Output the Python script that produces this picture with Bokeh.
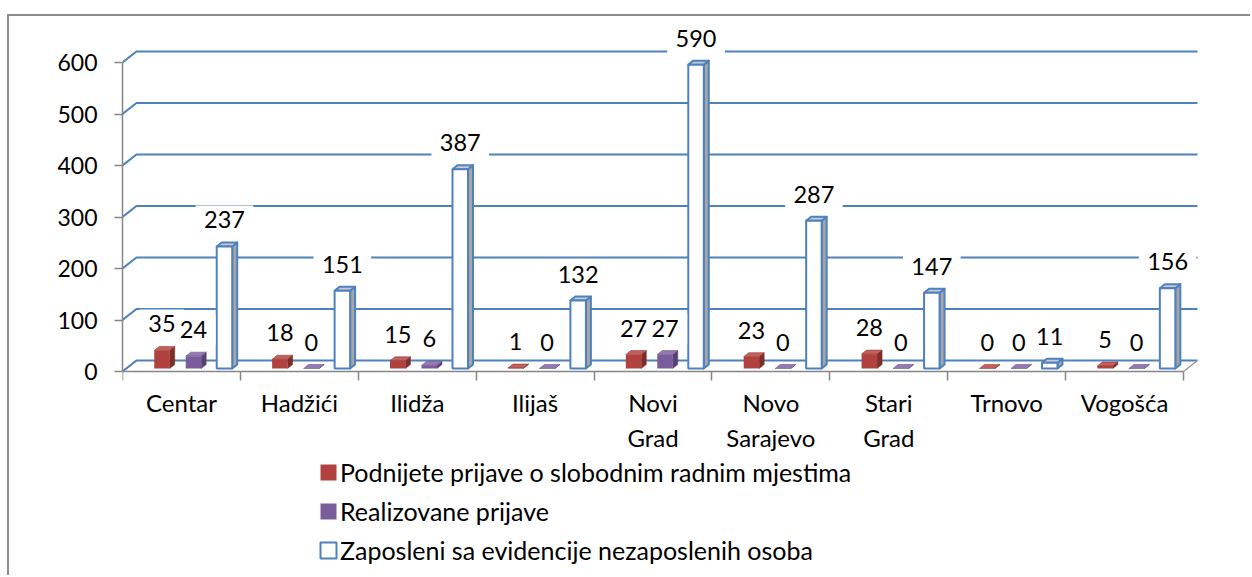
import numpy as np
from bokeh.plotting import figure
from bokeh.models import Range1d, FixedTicker, Legend, LegendItem
from bokeh.core.properties import value
from bokeh.embed import file_html
from bokeh.resources import INLINE

# ---------------- data ----------------
categories = ["Centar", "Hadžići", "Ilidža", "Ilijaš", "Novi Grad",
              "Novo Sarajevo", "Stari Grad", "Trnovo", "Vogošća"]
category_labels = ["Centar", "Hadžići", "Ilidža", "Ilijaš", "Novi\nGrad",
                   "Novo\nSarajevo", "Stari\nGrad", "Trnovo", "Vogošća"]
series_names = ["Podnijete prijave o slobodnim radnim mjestima",
                "Realizovane prijave",
                "Zaposleni sa evidencije nezaposlenih osoba"]
podnijete = [35, 18, 15, 1, 27, 23, 28, 0, 5]
realizovane = [24, 0, 6, 0, 27, 0, 0, 0, 0]
zaposleni = [237, 151, 387, 132, 590, 287, 147, 11, 156]
y_ticks = [0, 100, 200, 300, 400, 500, 600]

# ---------------- layout constants (image pixels) ----------------
OX, OY = 9, 16                      # css margin + border offset
W, H = 1252 - OX, 577 - OY
FRAME_L, FRAME_T, FRAME_R = 122, 22, 1200
ZERO_Y = 371                        # image y of value 0 on the front plane
ML, MT = FRAME_L - OX, FRAME_T - OY
MR = W - (FRAME_R - OX)
FW = FRAME_R - FRAME_L
CAT_PX = 117.89           # pixels per category
Y_PX = 0.515              # pixels per unit
PX = 1.0 / CAT_PX
PY = 1.0 / Y_PX
FONT = "Lato"

p = figure(width=W, height=H, output_backend="svg", toolbar_location=None,
           x_range=Range1d(0, FW / CAT_PX),
           y_range=Range1d(-(577 - ZERO_Y) / Y_PX, (ZERO_Y - FRAME_T) / Y_PX),
           min_border_left=ML, min_border_right=MR, min_border_top=MT,
           min_border_bottom=0)
p.styles = {"margin-left": "7px", "margin-top": "14px",
            "border-left": "2px solid #8C8C8C",
            "border-top": "2px solid #8C8C8C"}
p.outline_line_color = None
p.xgrid.visible = False
p.ygrid.visible = False
p.background_fill_color = "white"
p.border_fill_color = "white"

n = len(categories)

# ---------------- walls / gridlines ----------------
WDX, WDY = 14 * PX, 11 * PY
gx = [[0, WDX, n + WDX] for v in y_ticks]
gy = [[v, v + WDY, v + WDY] for v in y_ticks]
p.multi_line(gx, gy, line_color="#4F81BD", line_width=2)
p.line([n, n + WDX], [0, WDY], line_color="#9A9A9A", line_width=1.5)

# ---------------- 3D bars ----------------
styles = [
    dict(front="#B0413E", top="#C4605C", side="#7E2D2A", line=None),
    dict(front="#7A5C9B", top="#9479B3", side="#574273", line=None),
    dict(front="#FFFFFF", top="#C3CAD6", side="#A6A6A6", line="#4F81BD"),
]
offsets = [0.335, 0.602, 0.865]
series_vals = [podnijete, realizovane, zaposleni]
HALF = 7.75 * PX
BY0 = 3 * PY
DX, DY = 5 * PX, 4 * PY

front_renderers = []
label_x, label_y, label_t, box_y, box_w = [], [], [], [], []
for k, vals in enumerate(series_vals):
    st = styles[k]
    xc = np.arange(n) + offsets[k]
    v = np.array(vals, dtype=float)
    x0 = xc - HALF
    x1 = xc + HALF
    y0 = np.full(n, BY0)
    y1 = v + BY0
    side_xs = [[a, a + DX, a + DX, a] for a in x1]
    side_ys = [[b0, b0 + DY, b1 + DY, b1] for b0, b1 in zip(y0, y1)]
    top_xs = [[a, b, b + DX, a + DX] for a, b in zip(x0, x1)]
    top_ys = [[c, c, c + DY, c + DY] for c in y1]
    if st["line"]:
        lc, lw = st["line"], 2
    else:
        lc, lw = st["side"], 0.5
    p.patches(side_xs, side_ys, fill_color=st["side"], line_color=lc,
              line_width=lw, line_join="round")
    p.patches(top_xs, top_ys, fill_color=st["top"], line_color=lc,
              line_width=lw, line_join="round")
    r = p.quad(left=x0, right=x1, bottom=y0, top=y1, fill_color=st["front"],
               line_color=st["line"] if st["line"] else None,
               line_width=2 if st["line"] else 0)
    front_renderers.append(r)
    for i in range(n):
        base = vals[i] + BY0 + 19.5 * PY      # intended baseline
        label_x.append(xc[i])
        label_y.append(base + 7 * PY)
        label_t.append(str(vals[i]))
        box_y.append(base + 6.5 * PY)
        box_w.append(18 + 13.2 * len(str(vals[i])))

# label background boxes (mask gridlines)
p.rect(label_x, box_y, width=box_w, height=30, width_units="screen",
       height_units="screen", fill_color="white", line_color=None)
p.text(label_x, label_y, text=label_t, text_align="center",
       text_baseline="alphabetic", text_font=value(FONT),
       text_font_size="23.5px", text_color="black")

# ---------------- axes ----------------
ya = p.yaxis[0]
ya.ticker = FixedTicker(ticks=y_ticks, minor_ticks=[])
ya.bounds = (0, 600)
ya.axis_line_color = "#868686"
ya.axis_line_width = 1.5
ya.major_tick_line_color = "#868686"
ya.major_tick_line_width = 1.5
ya.major_tick_out = 8
ya.major_tick_in = 0
ya.minor_tick_line_color = None
ya.major_label_standoff = 17
ya.major_label_text_font = FONT
ya.major_label_text_font_size = "23px"
ya.major_label_text_color = "black"

xa = p.xaxis[0]
centers = [i + 0.5 for i in range(n)]
xa.ticker = FixedTicker(ticks=centers, minor_ticks=list(range(n + 1)))
xa.major_label_overrides = {c: lab for c, lab in zip(centers, category_labels)}
xa.bounds = (0, n)
xa.fixed_location = 0
xa.axis_line_color = "#868686"
xa.axis_line_width = 1.5
xa.major_tick_line_color = None
xa.major_tick_out = 0
xa.major_tick_in = 0
xa.minor_tick_line_color = "#868686"
xa.minor_tick_line_width = 1.5
xa.minor_tick_out = 9
xa.minor_tick_in = 0
xa.major_label_standoff = 7
xa.major_label_text_font = FONT
xa.major_label_text_font_size = "24px"
xa.major_label_text_line_height = 1.22
xa.major_label_text_color = "black"

# ---------------- legend ----------------
legend = Legend(items=[LegendItem(label=nm, renderers=[r])
                       for nm, r in zip(series_names, front_renderers)],
                location=(196, 12), orientation="vertical",
                glyph_width=20, glyph_height=20, label_height=29, spacing=9,
                padding=0, margin=0, border_line_color=None,
                background_fill_alpha=0, label_standoff=2,
                label_text_font=FONT, label_text_font_size="25px",
                label_text_color="black")
p.add_layout(legend)

open("out.html", "w").write(file_html(p, INLINE))
